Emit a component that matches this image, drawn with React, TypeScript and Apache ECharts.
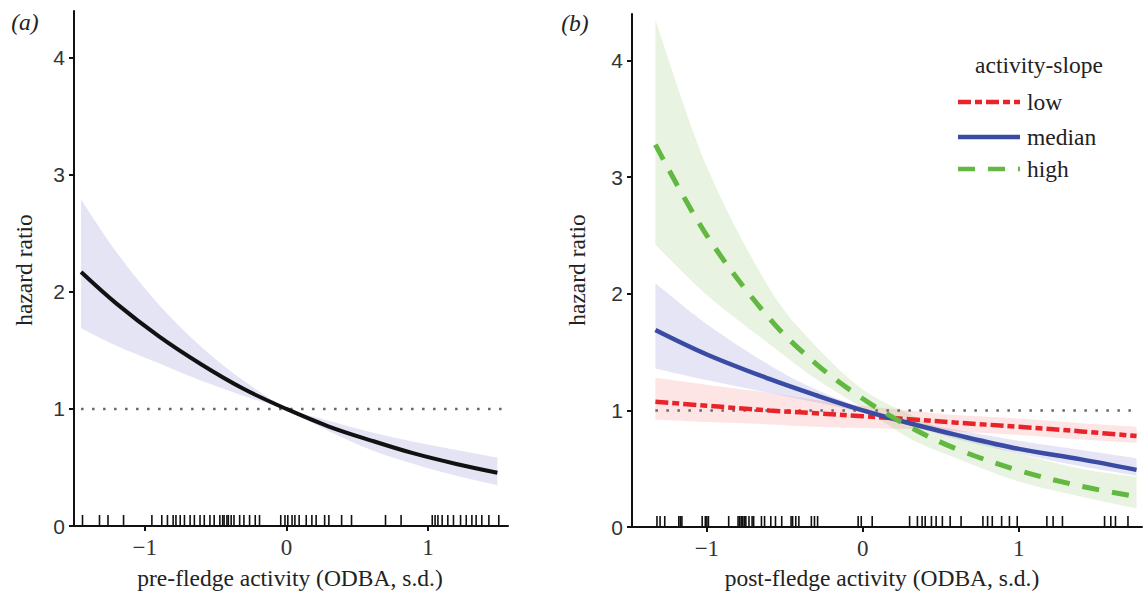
import React, { useEffect, useRef } from "react";
import * as echarts from "echarts";

// ---------- Panel (a): pre-fledge activity ----------
const aX = [-1.45, -1.2, -0.9, -0.6, -0.3, 0, 0.3, 0.6, 0.9, 1.2, 1.49];
const aHR = [2.17, 1.9, 1.62, 1.38, 1.17, 1.0, 0.85, 0.73, 0.62, 0.53, 0.455];
const aUpper = [2.79, 2.34, 1.89, 1.53, 1.24, 1.01, 0.9, 0.8, 0.72, 0.65, 0.585];
const aLower = [1.69, 1.54, 1.39, 1.24, 1.11, 0.99, 0.81, 0.65, 0.53, 0.43, 0.35];
const aRug = [
  -1.44, -1.32, -1.26, -1.15, -0.95, -0.88, -0.84, -0.8, -0.78, -0.75, -0.72, -0.68,
  -0.65, -0.61, -0.58, -0.54, -0.51, -0.47, -0.45, -0.44, -0.42, -0.41, -0.39, -0.37,
  -0.33, -0.3, -0.26, -0.22, -0.19, -0.04, -0.01, 0.01, 0.04, 0.06, 0.09, 0.14, 0.18,
  0.21, 0.27, 0.3, 0.39, 0.46, 0.7, 0.81, 1.03, 1.05, 1.07, 1.1, 1.14, 1.18, 1.23,
  1.27, 1.31, 1.34, 1.38, 1.43, 1.5,
];

// ---------- Panel (b): post-fledge activity ----------
const bX = [-1.33, -1.0, -0.6, -0.3, 0, 0.3, 0.6, 1.0, 1.4, 1.755];
const lowHR = [1.075, 1.04, 1.0, 0.975, 0.95, 0.925, 0.895, 0.86, 0.82, 0.78];
const lowUpper = [1.28, 1.22, 1.15, 1.09, 1.04, 1.0, 0.96, 0.93, 0.89, 0.86];
const lowLower = [0.92, 0.9, 0.88, 0.86, 0.85, 0.84, 0.82, 0.79, 0.75, 0.72];
const medianHR = [1.69, 1.48, 1.27, 1.13, 1.0, 0.89, 0.79, 0.67, 0.58, 0.49];
const medianUpper = [2.09, 1.74, 1.39, 1.18, 1.02, 0.91, 0.835, 0.74, 0.66, 0.59];
const medianLower = [1.36, 1.26, 1.15, 1.07, 0.98, 0.87, 0.755, 0.63, 0.52, 0.44];
const highHR = [3.28, 2.5, 1.79, 1.4, 1.1, 0.86, 0.67, 0.485, 0.35, 0.26];
const highUpper = [4.35, 3.09, 2.05, 1.55, 1.18, 0.97, 0.79, 0.63, 0.5, 0.43];
const highLower = [2.42, 1.99, 1.57, 1.27, 1.02, 0.76, 0.59, 0.39, 0.26, 0.16];
const bRug = [
  -1.32, -1.3, -1.27, -1.18, -1.17, -1.16, -1.03, -1.01, -1.0, -0.99, -0.86, -0.8,
  -0.79, -0.78, -0.77, -0.76, -0.75, -0.73, -0.71, -0.7, -0.65, -0.63, -0.59, -0.56,
  -0.52, -0.46, -0.45, -0.43, -0.41, -0.33, -0.31, -0.29, -0.03, -0.01, 0.06, 0.3,
  0.35, 0.38, 0.4, 0.44, 0.47, 0.51, 0.56, 0.63, 0.77, 0.8, 0.83, 0.89, 0.94, 0.99,
  1.18, 1.22, 1.28, 1.55, 1.59, 1.62, 1.7,
];

const yTicks = [0, 1, 2, 3, 4];
const xTicks = [-1, 0, 1];
const refLine = 1;
const legendNames = ["low", "median", "high"];

const SERIF = "'Liberation Serif', 'Times New Roman', serif";
const SANS = "'Liberation Sans', Arial, sans-serif";

const RED = "#e8232a";
const BLUE = "#3a4ba3";
const GREEN = "#62b840";
const RED_DASH = [13, 4, 7, 4];
const GREEN_DASH = [17, 13];

const pairs = (xs: number[], ys: number[]) => xs.map((x, i) => [x, ys[i]]);

// smooth open curve through pixel points (Catmull-Rom as cubic Bézier)
function curveThrough(ctx: any, pts: number[][], move: boolean) {
  if (move) ctx.moveTo(pts[0][0], pts[0][1]);
  else ctx.lineTo(pts[0][0], pts[0][1]);
  for (let i = 0; i < pts.length - 1; i++) {
    const p0 = pts[i - 1] || pts[i];
    const p1 = pts[i];
    const p2 = pts[i + 1];
    const p3 = pts[i + 2] || p2;
    const c1x = p1[0] + (p2[0] - p0[0]) / 6;
    const c1y = p1[1] + (p2[1] - p0[1]) / 6;
    const c2x = p2[0] - (p3[0] - p1[0]) / 6;
    const c2y = p2[1] - (p3[1] - p1[1]) / 6;
    ctx.bezierCurveTo(c1x, c1y, c2x, c2y, p2[0], p2[1]);
  }
}

let bandRegistered = false;
function registerBand() {
  if (bandRegistered) return;
  const Band = (echarts.graphic as any).extendShape({
    shape: { top: [] as number[][], bot: [] as number[][] },
    buildPath(ctx: any, shape: any) {
      if (!shape.top || shape.top.length < 2) return;
      curveThrough(ctx, shape.top, true);
      curveThrough(ctx, shape.bot, false);
      ctx.closePath();
    },
  });
  (echarts.graphic as any).registerShape("ciband", Band);
  bandRegistered = true;
}

function bandSeries(name: string, xs: number[], lo: number[], hi: number[], color: string, axis: number) {
  return {
    name,
    type: "custom",
    xAxisIndex: axis,
    yAxisIndex: axis,
    silent: true,
    z: 1,
    data: xs.map((x, i) => [x, lo[i], hi[i]]),
    encode: { x: 0, y: [1, 2] },
    renderItem: (params: any, api: any) => {
      if (params.dataIndex !== 0) return null;
      const top = xs.map((x, i) => api.coord([x, hi[i]]));
      const bot = xs.map((x, i) => api.coord([x, lo[i]])).reverse();
      return {
        type: "ciband",
        shape: { top, bot },
        style: { fill: color, stroke: "none" },
      };
    },
  };
}

function rugSeries(name: string, xs: number[], axis: number) {
  return {
    name,
    type: "custom",
    xAxisIndex: axis,
    yAxisIndex: axis,
    silent: true,
    z: 5,
    data: xs.map((x) => [x, 0]),
    encode: { x: 0, y: 1 },
    renderItem: (params: any, api: any) => {
      const p = api.coord([api.value(0), 0]);
      return {
        type: "line",
        shape: { x1: p[0], y1: p[1] - 1, x2: p[0], y2: p[1] - 11 },
        style: { stroke: "#111", lineWidth: 1.6 },
      };
    },
  };
}

function lineSeries(name: string, xs: number[], ys: number[], color: string, type: any, width: number, axis: number) {
  return {
    name,
    type: "line",
    xAxisIndex: axis,
    yAxisIndex: axis,
    data: pairs(xs, ys),
    smooth: 0.35,
    showSymbol: false,
    symbol: "none",
    silent: true,
    z: 4,
    lineStyle: { color, width, type, cap: "butt" },
    itemStyle: { color },
  };
}

function refSeries(name: string, x0: number, x1: number, axis: number) {
  return {
    name,
    type: "line",
    xAxisIndex: axis,
    yAxisIndex: axis,
    data: [
      [x0, refLine],
      [x1, refLine],
    ],
    showSymbol: false,
    symbol: "none",
    silent: true,
    z: 3,
    lineStyle: { color: "#666", width: 2.5, type: [2.5, 8.5], cap: "butt" },
  };
}

const fmtX = (v: number) => (v < 0 ? "\u2212" + Math.abs(v) : String(v));

function xAxisCfg(grid: number, min: number, max: number) {
  return {
    type: "value",
    gridIndex: grid,
    min,
    max,
    splitLine: { show: false },
    axisLine: { show: true, onZero: false, lineStyle: { color: "#111", width: 2 } },
    axisTick: { show: true, length: 5, customValues: xTicks, lineStyle: { color: "#111", width: 2 } },
    axisLabel: {
      customValues: xTicks,
      formatter: fmtX,
      margin: 10,
      fontFamily: SERIF,
      fontSize: 23,
      color: "#333",
    },
  };
}

function yAxisCfg(grid: number) {
  return {
    type: "value",
    gridIndex: grid,
    min: 0,
    max: 4.4,
    splitLine: { show: false },
    axisLine: { show: true, onZero: false, lineStyle: { color: "#111", width: 2 } },
    axisTick: { show: true, length: 5, customValues: yTicks, lineStyle: { color: "#111", width: 2 } },
    axisLabel: {
      customValues: yTicks,
      margin: 9,
      fontFamily: SANS,
      fontSize: 21,
      color: "#333",
    },
  };
}

export default function App() {
  const ref = useRef<HTMLDivElement>(null);
  useEffect(() => {
    if (!ref.current) return;
    registerBand();
    const chart = echarts.init(ref.current, undefined, { renderer: "svg" });
    const txt = (text: string, x: number, y: number, opts: any = {}) => ({
      type: "text",
      x,
      y,
      rotation: opts.rotation || 0,
      style: {
        text,
        fontFamily: SERIF,
        fontSize: opts.size || 23.5,
        fontStyle: opts.italic ? "italic" : "normal",
        fill: "#222",
        textAlign: opts.align || "center",
        textVerticalAlign: "middle",
      },
    });
    const legendColors = [RED, BLUE, GREEN];
    const legendDash: any[] = [RED_DASH, null, GREEN_DASH];
    const legendY = [102, 137, 169];
    const legendItems: any[] = [];
    legendNames.forEach((n, i) => {
      legendItems.push({
        type: "line",
        shape: { x1: 958, y1: legendY[i], x2: 1020, y2: legendY[i] },
        style: { stroke: legendColors[i], lineWidth: 4.5, lineDash: legendDash[i] || undefined },
      });
      legendItems.push(txt(n, 1027, legendY[i], { align: "left" }));
    });
    chart.setOption({
      animation: false,
      backgroundColor: "#fff",
      grid: [
        { left: 74, top: 11, width: 434, height: 515 },
        { left: 632, top: 14, width: 510, height: 513 },
      ],
      xAxis: [xAxisCfg(0, -1.5, 1.565), xAxisCfg(1, -1.48, 1.79)],
      yAxis: [yAxisCfg(0), yAxisCfg(1)],
      graphic: [
        txt("(a)", 25, 22, { italic: true }),
        txt("(b)", 575, 23, { italic: true }),
        txt("hazard ratio", 24, 270, { rotation: Math.PI / 2 }),
        txt("hazard ratio", 577, 270, { rotation: Math.PI / 2 }),
        txt("pre-fledge activity (ODBA, s.d.)", 290, 578),
        txt("post-fledge activity (ODBA, s.d.)", 882, 578),
        txt("activity-slope", 1039, 65),
        ...legendItems,
      ],
      series: [
        bandSeries("band-a", aX, aLower, aUpper, "#e4e4f5", 0),
        refSeries("ref-a", -1.45, 1.52, 0),
        lineSeries("pre-fledge", aX, aHR, "#111", "solid", 4, 0),
        rugSeries("rug-a", aRug, 0),

        bandSeries("band-high", bX, highLower, highUpper, "rgba(120,190,80,0.17)", 1),
        bandSeries("band-median", bX, medianLower, medianUpper, "rgba(100,100,200,0.17)", 1),
        bandSeries("band-low", bX, lowLower, lowUpper, "rgba(240,80,80,0.15)", 1),
        refSeries("ref-b", -1.33, 1.76, 1),
        lineSeries("low", bX, lowHR, RED, RED_DASH, 4.5, 1),
        lineSeries("median", bX, medianHR, BLUE, "solid", 4.5, 1),
        lineSeries("high", bX, highHR, GREEN, GREEN_DASH, 5, 1),
        rugSeries("rug-b", bRug, 1),
      ],
    });
    return () => chart.dispose();
  }, []);
  return (
    <div
      ref={ref}
      style={{ position: "absolute", left: 0, top: 0, width: 1144, height: 604, background: "#fff" }}
    />
  );
}
